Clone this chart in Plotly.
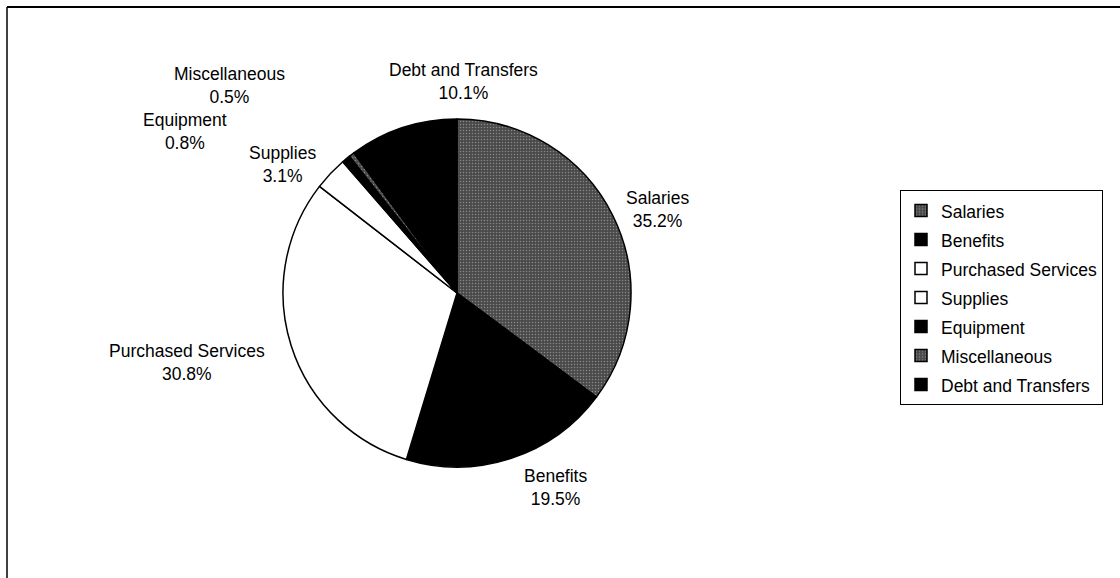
import plotly.graph_objects as go

# ---- data ----
categories = ["Salaries", "Benefits", "Purchased Services", "Supplies",
              "Equipment", "Miscellaneous", "Debt and Transfers"]
shares = [35.2, 19.5, 30.8, 3.1, 0.8, 0.5, 10.1]

# ---- styles ----
W, H = 1120, 578
slice_colors = ["#4a4a4a", "#000000", "#ffffff", "#ffffff", "#000000", "#4a4a4a", "#000000"]
slice_patterns = [".", "", "", "", "", ".", ""]
# label block centres in pixels (layout, not data)
label_pos = {
    "Salaries": (657, 209),
    "Benefits": (555, 487),
    "Purchased Services": (187, 362),
    "Supplies": (282, 164),
    "Equipment": (185, 132),
    "Miscellaneous": (229, 85),
    "Debt and Transfers": (463, 82),
}
FONT = "Liberation Sans, Arial, sans-serif"
TXT = 17.5

cx, cy, r = 457, 293, 174

legend_labels = [f"<span style='font-size:{TXT}px'>{c}</span>" for c in categories]

fig = go.Figure(go.Pie(
    labels=legend_labels,
    values=shares,
    sort=False,
    direction="clockwise",
    rotation=0,
    textinfo="none",
    hoverinfo="label+percent",
    marker=dict(
        colors=slice_colors,
        line=dict(color="black", width=1.5),
        pattern=dict(shape=slice_patterns, fgcolor="#c8c8c8", size=3,
                     solidity=0.2, fillmode="overlay"),
    ),
    domain=dict(x=[(cx - r) / W, (cx + r) / W], y=[1 - (cy + r) / H, 1 - (cy - r) / H]),
))

annotations = []
for cat, val in zip(categories, shares):
    px, py = label_pos[cat]
    annotations.append(dict(
        x=px / W, y=1 - py / H, xref="paper", yref="paper",
        text=f"{cat}<br>{val:.1f}%", showarrow=False,
        xanchor="center", yanchor="middle", align="center",
        font=dict(family=FONT, size=TXT, color="black"),
    ))

fig.update_layout(
    width=W, height=H,
    margin=dict(l=0, r=0, t=0, b=0),
    paper_bgcolor="white",
    plot_bgcolor="white",
    font=dict(family=FONT, size=TXT, color="black"),
    annotations=annotations,
    shapes=[
        dict(type="line", xref="paper", yref="paper",
             x0=7 / W, x1=1.0, y0=1 - 7 / H, y1=1 - 7 / H,
             line=dict(color="black", width=2)),
        dict(type="line", xref="paper", yref="paper",
             x0=7 / W, x1=7 / W, y0=0, y1=1 - 7 / H,
             line=dict(color="black", width=1.5)),
    ],
    legend=dict(
        x=900 / W, y=1 - 190 / H, xanchor="left", yanchor="top",
        bordercolor="black", borderwidth=1, bgcolor="white",
        font=dict(family=FONT, size=20, color="black"),
    ),
)

fig.write_html("out.html")
